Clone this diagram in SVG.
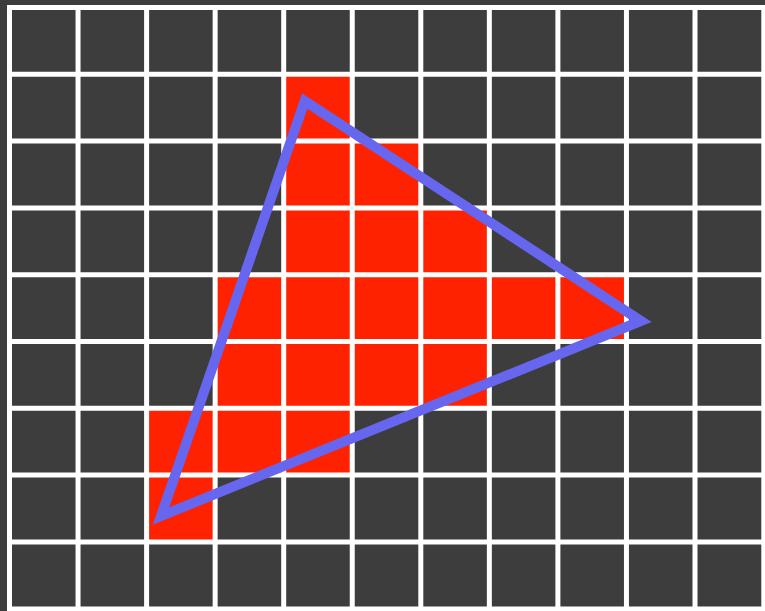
<svg xmlns="http://www.w3.org/2000/svg" width="765" height="611" viewBox="0 0 765 611">
<style>
.cell{fill:#ff2200}
.grid line{stroke:#ffffff;stroke-width:5}
.tri{fill:none;stroke:#6666ee;stroke-width:10;stroke-linejoin:miter;stroke-miterlimit:10}
</style>
<rect x="0" y="0" width="765" height="611" fill="#3d3d3d"/>
<g id="filled-pixels">
<rect class="cell" x="283.7" y="74.3" width="68.55" height="66.8"/>
<rect class="cell" x="283.7" y="141.1" width="137.1" height="66.8"/>
<rect class="cell" x="283.7" y="207.9" width="205.65" height="66.8"/>
<rect class="cell" x="215.15" y="274.7" width="411.3" height="66.8"/>
<rect class="cell" x="215.15" y="341.5" width="274.2" height="66.8"/>
<rect class="cell" x="146.6" y="408.3" width="205.65" height="66.8"/>
<rect class="cell" x="146.6" y="475.1" width="68.55" height="66.8"/>
</g>
<g id="grid" class="grid">
<line x1="9.5" y1="5" x2="9.5" y2="611"/>
<line x1="78.05" y1="5" x2="78.05" y2="611"/>
<line x1="146.6" y1="5" x2="146.6" y2="611"/>
<line x1="215.15" y1="5" x2="215.15" y2="611"/>
<line x1="283.7" y1="5" x2="283.7" y2="611"/>
<line x1="352.25" y1="5" x2="352.25" y2="611"/>
<line x1="420.8" y1="5" x2="420.8" y2="611"/>
<line x1="489.35" y1="5" x2="489.35" y2="611"/>
<line x1="557.9" y1="5" x2="557.9" y2="611"/>
<line x1="626.45" y1="5" x2="626.45" y2="611"/>
<line x1="695" y1="5" x2="695" y2="611"/>
<line x1="763.8" y1="5" x2="763.8" y2="611"/>
<line x1="7" y1="7.5" x2="765" y2="7.5"/>
<line x1="7" y1="74.3" x2="765" y2="74.3"/>
<line x1="7" y1="141.1" x2="765" y2="141.1"/>
<line x1="7" y1="207.9" x2="765" y2="207.9"/>
<line x1="7" y1="274.7" x2="765" y2="274.7"/>
<line x1="7" y1="341.5" x2="765" y2="341.5"/>
<line x1="7" y1="408.3" x2="765" y2="408.3"/>
<line x1="7" y1="475.1" x2="765" y2="475.1"/>
<line x1="7" y1="541.9" x2="765" y2="541.9"/>
<line x1="7" y1="609" x2="765" y2="609"/>
</g>
<g id="triangle">
<polygon class="tri" points="304.7,101 641,321 161,516"/>
</g>
</svg>
